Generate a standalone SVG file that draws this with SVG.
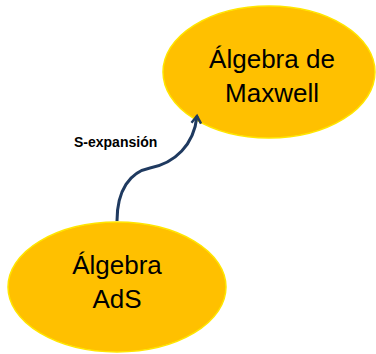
<svg xmlns="http://www.w3.org/2000/svg" width="376" height="354" viewBox="0 0 376 354">
<style>
.node{fill:#FFC000;stroke:#FFE600;stroke-width:1.5}
.t{font-family:"Liberation Sans",Arial,sans-serif;font-size:26px;fill:#000;text-anchor:middle}
.lbl{font-family:"Liberation Sans",Arial,sans-serif;font-size:14px;font-weight:bold;fill:#000}
.edge{fill:none;stroke:#1F3A60;stroke-width:3}
</style>
<defs>
<marker id="arr" viewBox="0 0 10 10" refX="7" refY="5" markerWidth="4" markerHeight="4" orient="auto" markerUnits="strokeWidth">
<polyline points="1,1 7,5 1,9" fill="none" stroke="#1F3A60" stroke-width="2"/>
</marker>
</defs>
<g id="maxwell">
<ellipse class="node" cx="269" cy="72" rx="106" ry="66"/>
<text class="t" x="272" y="68">Álgebra de</text>
<text class="t" x="272" y="102">Maxwell</text>
</g>
<g id="ads">
<ellipse class="node" cx="117" cy="287" rx="109" ry="65"/>
<text class="t" x="117" y="274">Álgebra</text>
<text class="t" x="117" y="308">AdS</text>
</g>
<g id="connectors">
<path class="edge" d="M117,221 C117,190 130,172 150,168 C175,163 194,145 197,116" marker-end="url(#arr)"/>
<text class="lbl" x="74" y="147">S-expansión</text>
</g>
</svg>
